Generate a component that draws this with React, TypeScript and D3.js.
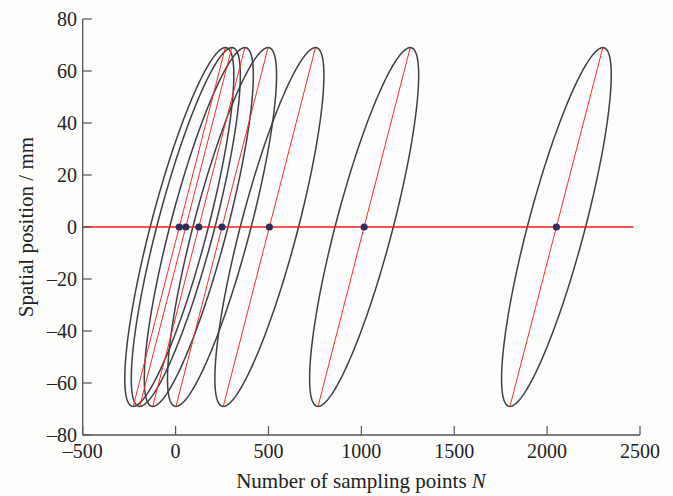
import React from "react";
import * as d3 from "d3";

// Centres of the ellipses (sampling points N) where the red diameter crosses 0
const centers = [20, 55, 125, 250, 505, 1015, 2050];
// Ellipse geometry (data units)
const halfSpanX = [248, 248, 248, 248, 248, 248, 250]; // x offset of top point from centre
const heightY = [69, 69, 69, 69, 69, 69, 69]; // top/bottom y
const widthQ = [157, 157, 157, 157, 157, 157, 157]; // horizontal half-width at y = 0
const xTicks = [-500, 0, 500, 1000, 1500, 2000, 2500];
const yTicks = [-80, -60, -40, -20, 0, 20, 40, 60, 80];
const zeroLineEnd = 2465;

const W = 673;
const H = 496;
const margin = { left: 82.7, right: 640, top: 19, bottom: 435 };

export default function App() {
  const x = d3.scaleLinear().domain([-500, 2500]).range([margin.left, margin.right]);
  const y = d3.scaleLinear().domain([-80, 80]).range([margin.bottom, margin.top]);
  const ts = d3.range(0, 361, 2).map((d) => (d * Math.PI) / 180);
  const line = d3
    .line<[number, number]>()
    .x((d) => x(d[0]))
    .y((d) => y(d[1]))
    .curve(d3.curveLinearClosed);

  const fmt = (v: number) => (v < 0 ? "\u2013" + Math.abs(v) : String(v));
  const font = "'Liberation Serif', 'Times New Roman', serif";
  const axisColor = "#555";

  return (
    <svg
      width={W}
      height={H}
      style={{ position: "fixed", left: 0, top: 0, background: "#fdfdfc" }}
      fontFamily={font}
    >
      {/* ellipses */}
      {centers.map((c, i) => {
        const pts: [number, number][] = ts.map((t) => [
          c + halfSpanX[i] * Math.sin(t) + widthQ[i] * Math.cos(t),
          heightY[i] * Math.sin(t),
        ]);
        return (
          <path key={"e" + i} d={line(pts) || ""} fill="none" stroke="#404040" strokeWidth={1.5} />
        );
      })}
      {/* red diameters */}
      {centers.map((c, i) => (
        <line
          key={"r" + i}
          x1={x(c - halfSpanX[i])}
          y1={y(-heightY[i])}
          x2={x(c + halfSpanX[i])}
          y2={y(heightY[i])}
          stroke="#ff2a2a"
          strokeWidth={1}
        />
      ))}
      {/* zero line */}
      <line x1={x(-500)} x2={x(zeroLineEnd)} y1={y(0)} y2={y(0)} stroke="#ff1a1a" strokeWidth={1.3} />
      {/* dots */}
      {centers.map((c, i) => (
        <circle key={"d" + i} cx={x(c)} cy={y(0)} r={3.6} fill="#2c2e5e" />
      ))}
      {/* axes */}
      <line x1={margin.left} x2={margin.left} y1={margin.top} y2={margin.bottom} stroke={axisColor} strokeWidth={1.3} />
      <line x1={margin.left} x2={margin.right} y1={margin.bottom} y2={margin.bottom} stroke={axisColor} strokeWidth={1.3} />
      {xTicks.map((t) => (
        <g key={"xt" + t}>
          <line x1={x(t)} x2={x(t)} y1={margin.bottom} y2={margin.bottom - 9} stroke={axisColor} strokeWidth={1.2} />
          <text x={x(t)} y={457.5} textAnchor="middle" fontSize={20} fill="#222">
            {fmt(t)}
          </text>
        </g>
      ))}
      {yTicks.map((t) => (
        <g key={"yt" + t}>
          <line x1={margin.left} x2={margin.left + 9} y1={y(t)} y2={y(t)} stroke={axisColor} strokeWidth={1.2} />
          <text x={77} y={y(t) + 6.5} textAnchor="end" fontSize={20} fill="#222">
            {fmt(t)}
          </text>
        </g>
      ))}
      <text x={361} y={488} textAnchor="middle" fontSize={21} fill="#222">
        Number of sampling points <tspan fontStyle="italic">N</tspan>
      </text>
      <text
        transform={`translate(33, ${y(0)}) rotate(-90)`}
        textAnchor="middle"
        fontSize={21}
        fill="#222"
      >
        Spatial position / mm
      </text>
    </svg>
  );
}
